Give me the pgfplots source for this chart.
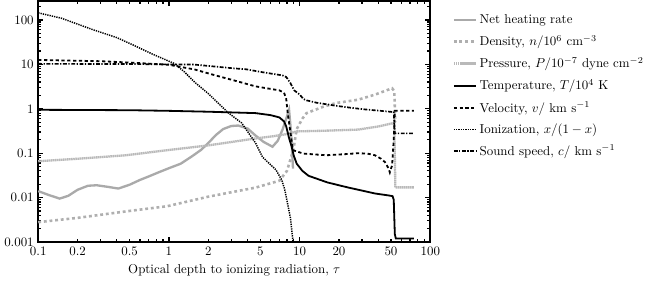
\documentclass[border=0pt]{standalone}
\usepackage{pgfplots}
\pgfplotsset{compat=1.18}
\definecolor{heat}{RGB}{170,170,170}
\definecolor{dens}{RGB}{175,175,175}
\definecolor{pres}{RGB}{185,185,185}
\begin{document}
\begin{tikzpicture}
\begin{axis}[
  scale only axis,
  width=304pt, height=187pt,
  xmode=log, ymode=log,
  xmin=0.1, xmax=100, ymin=0.001, ymax=270,
  xtick={0.1,1,10,100}, xticklabels={0.1,1,10,100},
  extra x ticks={0.2,0.5,2,5,20,50},
  extra x tick labels={0.2,0.5,2,5,20,50},
  extra x tick style={major tick length=2.5pt},
  minor xtick={0.2,0.3,0.4,0.5,0.6,0.7,0.8,0.9,2,3,4,5,6,7,8,9,20,30,40,50,60,70,80,90},
  ytick={0.001,0.01,0.1,1,10,100}, yticklabels={0.001,0.01,0.1,1,10,100},
  minor ytick={0.002,0.003,0.004,0.005,0.006,0.007,0.008,0.009,0.02,0.03,0.04,0.05,0.06,0.07,0.08,0.09,0.2,0.3,0.4,0.5,0.6,0.7,0.8,0.9,2,3,4,5,6,7,8,9,20,30,40,50,60,70,80,90,200},
  major tick length=4pt, minor tick length=2.5pt,
  every tick/.style={black, line width=0.9pt},
  axis line style={line width=1.3pt},
  xlabel={Optical depth to ionizing radiation, $\tau$},
  legend style={draw=none, fill=none, at={(rel axis cs:1.046,0.965)}, anchor=north west, row sep=3.5pt},
  legend cell align=left,
]
% Net heating rate
\addplot[heat, line width=1.8pt] coordinates {
(0.1,0.0140) (0.12,0.0115) (0.146,0.0095) (0.17,0.0110) (0.2,0.0150) (0.24,0.0185) (0.28,0.0190) (0.34,0.0175) (0.41,0.0160) (0.5,0.0195) (0.6,0.0250) (0.72,0.031) (0.85,0.038) (1.0,0.046) (1.23,0.058) (1.5,0.085) (1.77,0.12) (2.0,0.17) (2.3,0.26) (2.6,0.35) (3.0,0.41) (3.4,0.42) (4.0,0.36) (4.6,0.25) (5.3,0.18) (6.2,0.14) (6.8,0.19) (7.4,0.34) (7.9,0.6) (8.3,0.95) (8.6,0.3) (8.9,0.045)
};
\addlegendentry{Net heating rate}
% Density
\addplot[dens, line width=2pt, dash pattern=on 2.2pt off 2.2pt] coordinates {
(0.1,0.0028) (0.2,0.0035) (0.47,0.0049) (0.97,0.0064) (2.0,0.0105) (4.6,0.0168) (7.0,0.024) (8.0,0.04) (8.6,0.08) (9.0,0.13) (9.5,0.35) (10.5,0.6) (11.3,0.8) (15,1.1) (19,1.35) (28,1.6) (38,2.1) (51,2.9) (53,2.5) (54,0.5)
};
\addlegendentry{Density, $n/10^6$ cm$^{-3}$}
% Pressure
\addplot[pres, line width=1.8pt, dash pattern=on 1.2pt off 0.4pt] coordinates {
(0.1,0.066) (0.2,0.075) (0.47,0.09) (0.97,0.117) (2,0.15) (4.6,0.215) (6.2,0.24) (8.0,0.27) (9.5,0.31) (15,0.32) (28,0.34) (40,0.40) (51,0.47) (53,0.47) (54,0.017) (75,0.017)
};
\addlegendentry{Pressure, $P/10^{-7}$ dyne cm$^{-2}$}
% Temperature
\addplot[black, line width=1.4pt] coordinates {
(0.1,0.95) (0.5,0.93) (1.0,0.90) (2,0.86) (4.6,0.80) (6.0,0.72) (7.0,0.64) (7.6,0.52) (7.9,0.40) (8.3,0.22) (8.7,0.14) (9.0,0.09) (9.5,0.058) (10.5,0.04) (11.7,0.031) (16.3,0.022) (23.3,0.017) (37.7,0.0124) (47.9,0.0112) (51.4,0.0108) (52.5,0.009) (53.5,0.0015) (54.5,0.0012) (75,0.0012)
};
\addlegendentry{Temperature, $T/10^4$ K}
% Velocity
\addplot[black, line width=1.4pt, dash pattern=on 2.5pt off 2pt] coordinates {
(0.1,12.6) (0.3,11.8) (0.5,11) (1.0,9.8) (1.57,7.7) (2.2,5.8) (3.2,4.3) (4.6,3.2) (7.0,2.6) (7.6,2.3) (7.9,1.66) (8.1,0.82) (8.5,0.3) (8.9,0.117) (10.7,0.098) (16,0.09) (22,0.095) (28,0.1) (33,0.098) (37.7,0.09) (42,0.075) (45,0.063) (48,0.045) (49,0.037) (50,0.045) (51,0.053) (52.5,0.2) (53.5,0.9) (75,0.9)
};
\addlegendentry{Velocity, $v/$ km s$^{-1}$}
% Ionization
\addplot[black, line width=1.15pt, dash pattern=on 1pt off 0.8pt] coordinates {
(0.1,145) (0.15,110) (0.26,61) (0.4,40) (0.53,27.5) (0.75,17) (1.09,10.6) (1.3,7) (1.57,4.0) (2.0,2.2) (2.85,0.81) (3.6,0.48) (4.6,0.17) (5.2,0.082) (6.6,0.042) (7.3,0.025) (7.7,0.015) (8.2,0.006) (8.5,0.0035) (8.9,0.001)
};
\addlegendentry{Ionization, $x/(1-x)$}
% Sound speed
\addplot[black, line width=1.3pt, dash pattern=on 3pt off 1.2pt on 1pt off 1.2pt] coordinates {
(0.1,10.3) (0.5,10.2) (1.0,10) (1.57,9.9) (2.2,9.0) (3.2,8.1) (3.86,7.8) (5.0,6.8) (6.5,6.0) (7.4,5.65) (7.9,5.2) (8.5,3.8) (9.1,2.6) (10,2.1) (10.7,1.66) (11.3,1.55) (13.5,1.37) (19.4,1.16) (25,1.05) (31.5,0.97) (40,0.91) (51,0.85) (52.5,0.85) (53.5,0.28) (75,0.28)
};
\addlegendentry{Sound speed, $c/$ km s$^{-1}$}
\end{axis}
\end{tikzpicture}
\end{document}
